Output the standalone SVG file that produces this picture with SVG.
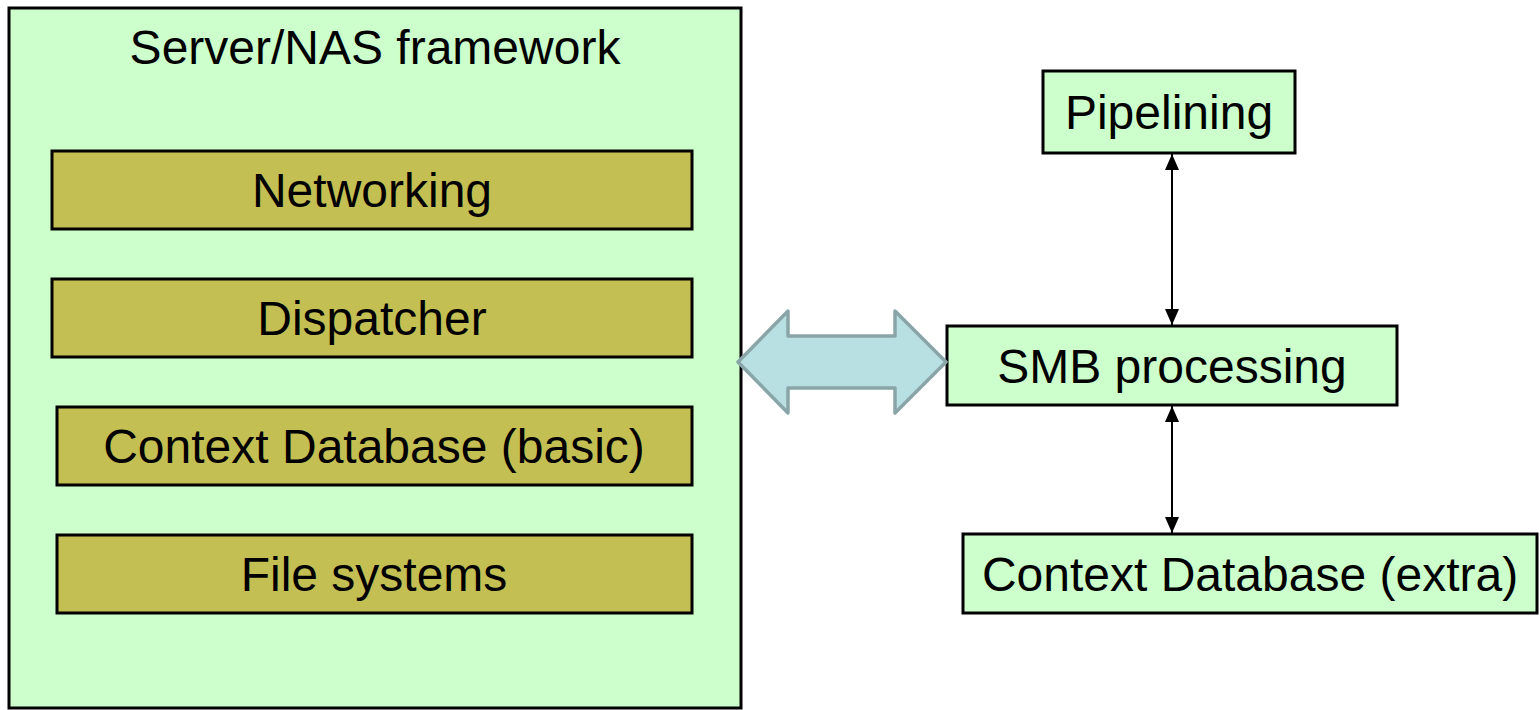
<svg xmlns="http://www.w3.org/2000/svg" width="1540" height="710" viewBox="0 0 1540 710">
<style>
.frame{fill:#ccffcc;stroke:#000;stroke-width:3}
.layer{fill:#c4bf52;stroke:#000;stroke-width:3}
.node{fill:#ccffcc;stroke:#000;stroke-width:3}
.t{font-family:"Liberation Sans",Arial,sans-serif;font-size:48px;fill:#000;text-anchor:middle}
.conn{stroke:#000;stroke-width:2;fill:none;marker-start:url(#ah);marker-end:url(#ah)}
.big{fill:#b8dfe2;stroke:#8aa5a8;stroke-width:3.5;stroke-linejoin:round}
</style>
<defs>
<marker id="ah" viewBox="0 0 16 14" refX="16" refY="7" markerWidth="16" markerHeight="14" markerUnits="userSpaceOnUse" orient="auto-start-reverse">
<path d="M0,0 L16,7 L0,14 Z" fill="#000"/>
</marker>
</defs>
<rect width="1540" height="710" fill="#fff"/>
<g id="server-nas-framework">
<rect class="frame" x="9" y="8" width="732" height="700"/>
<text class="t" x="375" y="64">Server/NAS framework</text>
</g>
<g id="networking">
<rect class="layer" x="52" y="151" width="640" height="78"/>
<text class="t" x="372" y="207">Networking</text>
</g>
<g id="dispatcher">
<rect class="layer" x="52" y="279" width="640" height="78"/>
<text class="t" x="372" y="335">Dispatcher</text>
</g>
<g id="context-db-basic">
<rect class="layer" x="57" y="407" width="635" height="78"/>
<text class="t" x="374" y="463">Context Database (basic)</text>
</g>
<g id="file-systems">
<rect class="layer" x="57" y="535" width="635" height="78"/>
<text class="t" x="374" y="591">File systems</text>
</g>
<g id="pipelining">
<rect class="node" x="1043" y="71" width="252" height="82"/>
<text class="t" x="1169" y="129">Pipelining</text>
</g>
<g id="smb-processing">
<rect class="node" x="947" y="326" width="450" height="79"/>
<text class="t" x="1172" y="383">SMB processing</text>
</g>
<g id="context-db-extra">
<rect class="node" x="963" y="534" width="574" height="79"/>
<text class="t" x="1250" y="591">Context Database (extra)</text>
</g>
<g id="connectors">
<path class="big" d="M738,362 L788,311 L788,336 L895,336 L895,311 L946,362 L895,413 L895,388 L788,388 L788,413 Z"/>
<line class="conn" x1="1172" y1="154" x2="1172" y2="325"/>
<line class="conn" x1="1172" y1="406" x2="1172" y2="533"/>
</g>
</svg>
